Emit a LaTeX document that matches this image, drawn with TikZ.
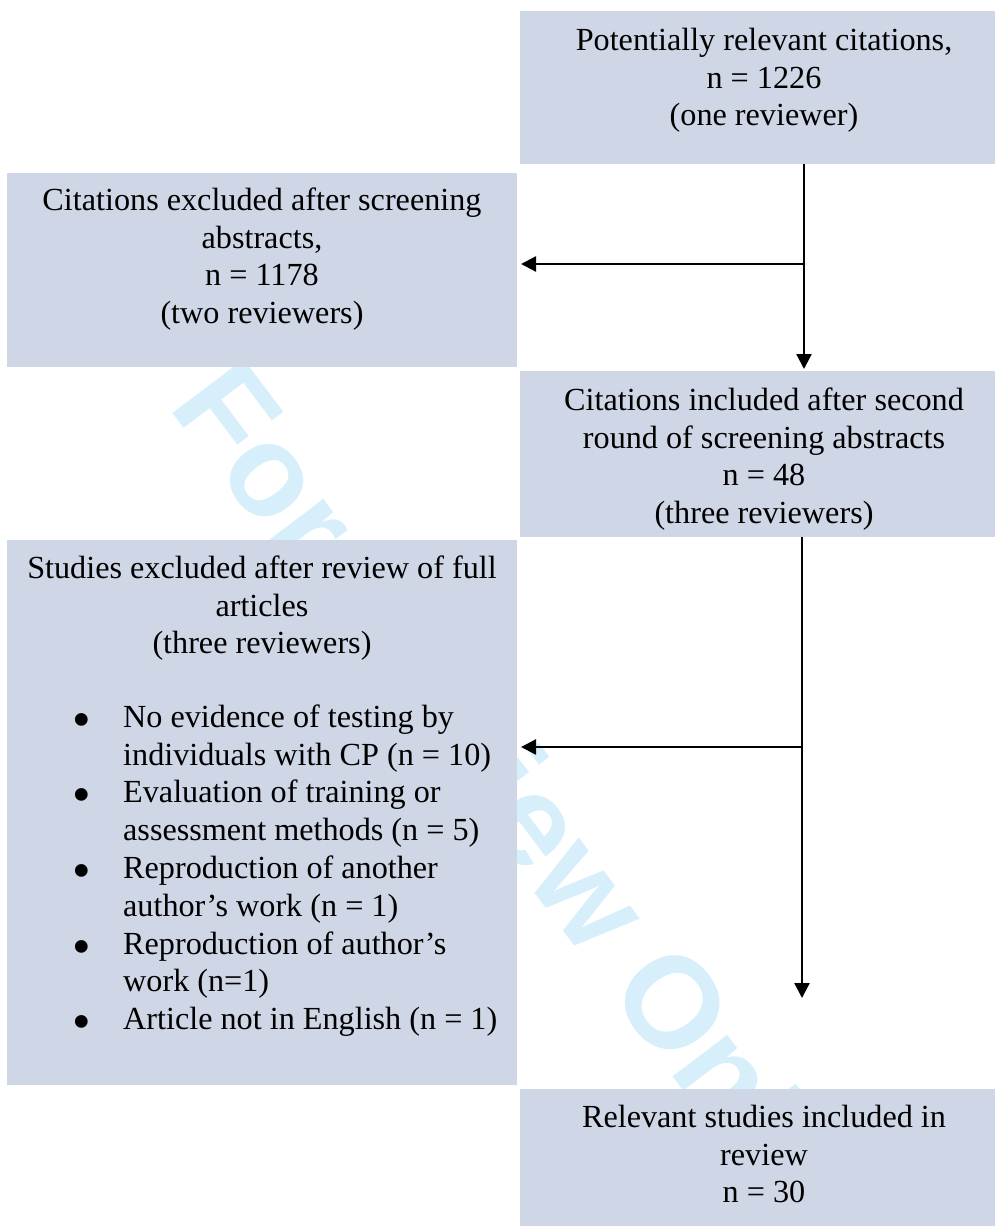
\documentclass[tikz,border=0pt]{standalone}
\usepackage{fontspec}
\setmainfont{Liberation Serif}
\newfontfamily\wmfont{Liberation Sans}
\usetikzlibrary{arrows.meta}
\definecolor{boxfill}{RGB}{207,214,230}
\definecolor{wmark}{RGB}{214,239,251}
\newcommand{\fl}{\rule{0pt}{24pt}}
\newcommand{\bul}{\makebox[50.4pt][l]{\raisebox{-10pt}{\scalebox{1.65}{•}}}}
\newcommand{\ind}{\hspace*{50.4pt}}
\begin{document}
\begin{tikzpicture}[x=1pt,y=-1pt,
  box/.style={fill=boxfill, draw=none, anchor=north west, inner sep=0pt, outer sep=0pt},
  txt/.style={anchor=north, align=center, inner sep=0pt, font=\fontsize{32.2}{37.8}\selectfont},
  ltxt/.style={anchor=north west, align=left, inner sep=0pt, font=\fontsize{32.2}{37.8}\selectfont},
  conn/.style={line width=2.3pt, -{Triangle[length=15pt,width=15pt]}}]
\useasboundingbox (0,0) rectangle (995,1226);
% watermark
\node[rotate=-53, text=wmark, inner sep=0pt, font=\wmfont\bfseries\fontsize{130}{130}\selectfont] (wm) at (501,793) {For Review Only};
% boxes
\node[box, minimum width=475pt, minimum height=153pt] (b1) at (520,11) {};
\node[box, minimum width=510pt, minimum height=194pt] (b2) at (7,173) {};
\node[box, minimum width=475pt, minimum height=166pt] (b3) at (520,371) {};
\node[box, minimum width=510pt, minimum height=545pt] (b4) at (7,540) {};
\node[box, minimum width=475pt, minimum height=137pt] (b5) at (520,1089) {};
% texts
\node[txt] (t1) at (764,26) {\fl Potentially relevant citations,\\ n = 1226\\ (one reviewer)};
\node[txt] (t2) at (262,186) {\fl Citations excluded after screening\\ abstracts,\\ n = 1178\\ (two reviewers)};
\node[txt] (t3) at (764,386) {\fl Citations included after second\\ round of screening abstracts\\ n = 48\\ (three reviewers)};
\node[txt] (t4) at (262,554) {\fl Studies excluded after review of full\\ articles\\ (three reviewers)};
\node[ltxt] (t4b) at (72.6,703) {\fl\bul No evidence of testing by\\
\ind individuals with CP (n = 10)\\
\bul Evaluation of training or\\
\ind assessment methods (n = 5)\\
\bul Reproduction of another\\
\ind author’s work (n = 1)\\
\bul Reproduction of author’s\\
\ind work (n=1)\\
\bul Article not in English (n = 1)};
\node[txt] (t5) at (764,1103) {\fl Relevant studies included in\\ review\\ n = 30};
% connectors
\coordinate (j1) at (804,264);
\coordinate (j2) at (802,747);
\coordinate (e2) at (802,998);
\draw[conn, shorten >=2pt] (b1.south -| j1) -- (b3.north -| j1);
\draw[conn, shorten >=4pt] (j1) -- (b2.east |- j1);
\draw[conn] (b3.south -| j2) -- (e2);
\draw[conn, shorten >=4pt] (j2) -- (b4.east |- j2);
\end{tikzpicture}
\end{document}
